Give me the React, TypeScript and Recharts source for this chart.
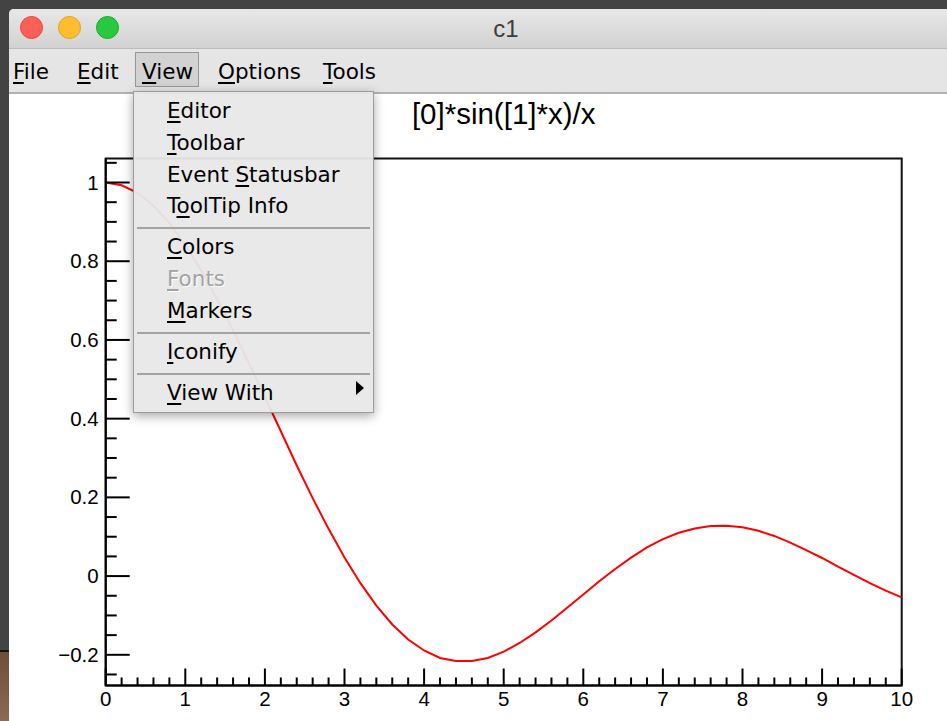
import { LineChart, Line, XAxis, YAxis, ReferenceArea } from "recharts";

// function samples (x from 0 to 10)
const xValues = [
  0, 0.2, 0.4, 0.6, 0.8, 1, 1.2, 1.4, 1.6, 1.8, 2, 2.2, 2.4, 2.6, 2.8, 3, 3.2,
  3.4, 3.6, 3.8, 4, 4.2, 4.4, 4.6, 4.8, 5, 5.2, 5.4, 5.6, 5.8, 6, 6.2, 6.4, 6.6,
  6.8, 7, 7.2, 7.4, 7.6, 7.8, 8, 8.2, 8.4, 8.6, 8.8, 9, 9.2, 9.4, 9.6, 9.8, 10,
];
const yValues = [
  1, 0.993, 0.974, 0.941, 0.897, 0.841, 0.777, 0.704, 0.625, 0.541, 0.455,
  0.368, 0.281, 0.198, 0.12, 0.047, -0.018, -0.075, -0.123, -0.161, -0.189,
  -0.208, -0.216, -0.216, -0.208, -0.192, -0.17, -0.143, -0.113, -0.08, -0.047,
  -0.013, 0.018, 0.047, 0.073, 0.094, 0.11, 0.121, 0.127, 0.128, 0.124, 0.115,
  0.102, 0.085, 0.066, 0.046, 0.024, 0.003, -0.018, -0.037, -0.054,
];

const xMajorTicks = [0, 1, 2, 3, 4, 5, 6, 7, 8, 9, 10];
const xTickLabels = ["0", "1", "2", "3", "4", "5", "6", "7", "8", "9", "10"];
const yMajorTicks = [-0.2, 0, 0.2, 0.4, 0.6, 0.8, 1];
const yTickLabels = ["\u22120.2", "0", "0.2", "0.4", "0.6", "0.8", "1"];

const chartTitle = "[0]*sin([1]*x)/x";
const windowTitle = "c1";
const menuBarLabels = ["File", "Edit", "View", "Options", "Tools"];
const viewMenuLabels = [
  "Editor", "Toolbar", "Event Statusbar", "ToolTip Info", "-",
  "Colors", "Fonts", "Markers", "-", "Iconify", "-", "View With",
];
const viewMenuMnemonics = [0, 0, 6, 1, -1, 0, 0, 0, -1, 0, -1, 0];

const X_DOMAIN: [number, number] = [0, 10];
const Y_DOMAIN: [number, number] = [-0.278, 1.061];

const data = xValues.map((x, i) => ({ x, y: yValues[i] }));

// minor ticks: 0.2 on x, 0.05 on y
const xTicks = Array.from({ length: 51 }, (_, i) => +(i * 0.2).toFixed(2));
const yTicks = Array.from({ length: 27 }, (_, i) => +(-0.25 + i * 0.05).toFixed(2));

const isNear = (a: number, b: number) => Math.abs(a - b) < 1e-6;
const axisFont = "'Liberation Sans', Arial, Helvetica, sans-serif";
const uiFont = "'DejaVu Sans', Verdana, sans-serif";

function XTick(props: any) {
  const { x, y, payload } = props;
  const idx = xMajorTicks.findIndex((t) => isNear(t, payload.value));
  const major = idx >= 0;
  return (
    <g>
      <line x1={x} x2={x} y1={y} y2={y - (major ? 17 : 8)} stroke="#000" strokeWidth={2} />
      {major && (
        <text x={x} y={y + 20} textAnchor="middle" fontSize={20.5} fontFamily={axisFont} fill="#000">
          {xTickLabels[idx]}
        </text>
      )}
    </g>
  );
}

function YTick(props: any) {
  const { x, y, payload } = props;
  const idx = yMajorTicks.findIndex((t) => isNear(t, payload.value));
  const major = idx >= 0;
  return (
    <g>
      <line x1={x} x2={x + (major ? 24 : 11)} y1={y} y2={y} stroke="#000" strokeWidth={2} />
      {major && (
        <text x={x - 7} y={y + 7} textAnchor="end" fontSize={20.5} fontFamily={axisFont} fill="#000">
          {yTickLabels[idx]}
        </text>
      )}
    </g>
  );
}

function Mnemonic({ text, at }: { text: string; at: number }) {
  if (at < 0) return <>{text}</>;
  return (
    <>
      {text.slice(0, at)}
      <span style={{ textDecoration: "underline", textUnderlineOffset: 3 }}>{text[at]}</span>
      {text.slice(at + 1)}
    </>
  );
}

const menuBarX = [13, 77, 142, 218, 323];

export default function App() {
  // dropdown rows: baselines step 31.7, separators add 9.5
  let base = 118.3;
  const rows: { kind: "item" | "sep"; i: number; y: number }[] = [];
  viewMenuLabels.forEach((label, i) => {
    if (label === "-") {
      rows.push({ kind: "sep", i, y: base - 31.7 + 14.5 });
      base += 9.5;
    } else {
      rows.push({ kind: "item", i, y: base });
      base += 31.7;
    }
  });

  return (
    <div
      style={{
        position: "absolute",
        left: 0,
        top: 0,
        width: 947,
        height: 721,
        overflow: "hidden",
        background: "#434343",
      }}
    >
      {/* desktop corner */}
      <div
        style={{
          position: "absolute",
          left: 0,
          top: 650,
          width: 9,
          height: 71,
          borderTop: "2px solid #111",
          background: "linear-gradient(#6e4d3b, #8d6a55)",
        }}
      />
      {/* window */}
      <div
        style={{
          position: "absolute",
          left: 9,
          top: 9,
          width: 938,
          height: 712,
          background: "#fff",
          borderTopLeftRadius: 5,
          overflow: "hidden",
        }}
      >
        <div
          style={{
            position: "absolute",
            left: 0,
            top: 0,
            width: 938,
            height: 39,
            background: "linear-gradient(#e8e7e8, #d3d2d3)",
            borderBottom: "1px solid #bcbcbc",
          }}
        />
        <div
          style={{
            position: "absolute",
            left: 0,
            top: 40,
            width: 938,
            height: 43,
            background: "#e5e5e5",
            borderBottom: "2px solid #b2b2b2",
          }}
        />
      </div>

      {/* traffic lights */}
      {[
        ["#fe5f57", "#e0443e", 31.7],
        ["#febc2e", "#dea123", 69.3],
        ["#28c840", "#1aab29", 107.7],
      ].map(([fill, edge, cx]) => (
        <div
          key={String(cx)}
          style={{
            position: "absolute",
            left: (cx as number) - 11.5,
            top: 16.2,
            width: 23,
            height: 23,
            borderRadius: "50%",
            boxSizing: "border-box",
            background: fill as string,
            border: `1px solid ${edge}`,
          }}
        />
      ))}
      <div
        style={{
          position: "absolute",
          left: 406,
          width: 200,
          top: 17,
          textAlign: "center",
          fontFamily: axisFont,
          fontSize: 24,
          lineHeight: "24px",
          color: "#3c3c3c",
        }}
      >
        {windowTitle}
      </div>

      {/* menu bar */}
      <div
        style={{
          position: "absolute",
          left: 135,
          top: 52,
          width: 64,
          height: 35,
          boxSizing: "border-box",
          background: "#d2d2d2",
          border: "1px solid #979797",
        }}
      />
      {menuBarLabels.map((label, i) => (
        <div
          key={label}
          style={{
            position: "absolute",
            left: menuBarX[i],
            top: 79.3 - 18.2,
            fontFamily: uiFont,
            fontSize: 21.5,
            lineHeight: "21.5px",
            color: "#000",
            whiteSpace: "nowrap",
          }}
        >
          <Mnemonic text={label} at={0} />
        </div>
      ))}

      {/* canvas chart */}
      <div style={{ position: "absolute", left: 0, top: 0 }}>
        <LineChart
          width={947}
          height={721}
          data={data}
          margin={{ top: 158.5, right: 45.3, bottom: 5.5, left: 45.7 }}
        >
          <XAxis
            dataKey="x"
            type="number"
            domain={X_DOMAIN}
            allowDataOverflow
            ticks={xTicks}
            interval={0}
            tickSize={0}
            tickMargin={0}
            tickLine={false}
            axisLine={{ stroke: "#000", strokeWidth: 2 }}
            tick={<XTick />}
            height={30}
          />
          <YAxis
            type="number"
            domain={Y_DOMAIN}
            allowDataOverflow
            ticks={yTicks}
            interval={0}
            tickSize={0}
            tickMargin={0}
            tickLine={false}
            axisLine={{ stroke: "#000", strokeWidth: 2 }}
            tick={<YTick />}
            width={60}
          />
          {/* pad frame */}
          <ReferenceArea
            x1={X_DOMAIN[0]}
            x2={X_DOMAIN[1]}
            y1={Y_DOMAIN[0]}
            y2={Y_DOMAIN[1]}
            fill="none"
            fillOpacity={0}
            stroke="#111"
            strokeWidth={2}
            strokeOpacity={1}
            ifOverflow="visible"
          />
          <Line
            type="linear"
            dataKey="y"
            stroke="#ff0000"
            strokeWidth={2}
            dot={false}
            activeDot={false}
            isAnimationActive={false}
          />
        </LineChart>
      </div>

      {/* pad title */}
      <div
        style={{
          position: "absolute",
          left: 303.7,
          width: 400,
          top: 98.8,
          textAlign: "center",
          fontFamily: axisFont,
          fontSize: 29.5,
          lineHeight: "29px",
          color: "#000",
          whiteSpace: "nowrap",
        }}
      >
        {chartTitle}
      </div>

      {/* View dropdown */}
      <div
        style={{
          position: "absolute",
          left: 133,
          top: 91,
          width: 241,
          height: 322,
          boxSizing: "border-box",
          background: "rgba(232,232,232,0.95)",
          border: "1px solid #9c9c9c",
          boxShadow: "0 3px 10px rgba(0,0,0,0.35)",
        }}
      />
      {rows.map((r) =>
        r.kind === "sep" ? (
          <div
            key={r.i}
            style={{
              position: "absolute",
              left: 137,
              top: r.y - 1,
              width: 233,
              height: 2,
              background: "#a3a3a3",
            }}
          />
        ) : (
          <div
            key={r.i}
            style={{
              position: "absolute",
              left: 167,
              top: r.y - 18.2,
              fontFamily: uiFont,
              fontSize: 21.5,
              lineHeight: "21.5px",
              whiteSpace: "nowrap",
              color: viewMenuLabels[r.i] === "Fonts" ? "#a3a3a3" : "#000",
              textShadow: viewMenuLabels[r.i] === "Fonts" ? "1px 1px 0 #fff" : "none",
            }}
          >
            <Mnemonic text={viewMenuLabels[r.i]} at={viewMenuMnemonics[r.i]} />
          </div>
        )
      )}
      {/* submenu arrow */}
      <div
        style={{
          position: "absolute",
          left: 356,
          top: 381,
          width: 0,
          height: 0,
          borderTop: "7px solid transparent",
          borderBottom: "7px solid transparent",
          borderLeft: "8px solid #000",
        }}
      />
    </div>
  );
}
